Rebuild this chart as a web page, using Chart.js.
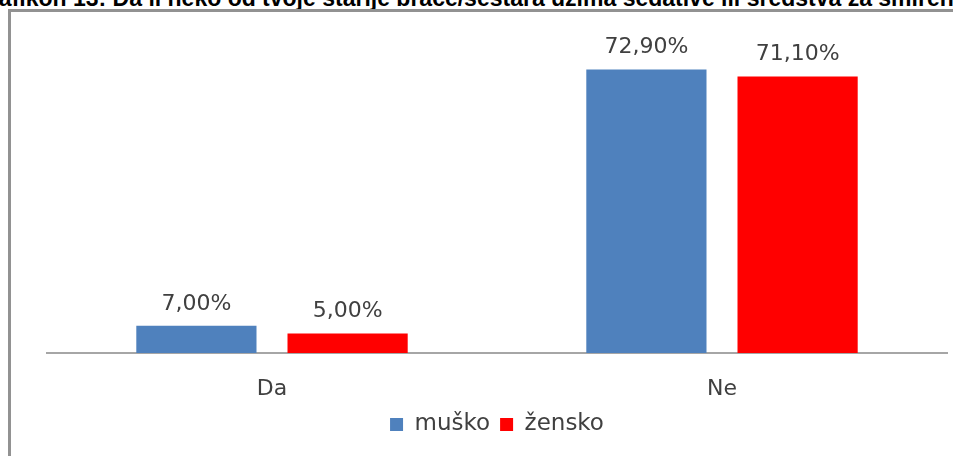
<!DOCTYPE html>
<html lang="hr">
<head>
  <meta charset="UTF-8">
  <title>Grafikon 13</title>
  <script src="https://cdn.jsdelivr.net/npm/chart.js"></script>
  <style>
    html, body {
      margin: 0;
      padding: 0;
      width: 953px;
      height: 456px;
      overflow: hidden;
      background: #fff;
      font-family: 'DejaVu Sans', sans-serif;
    }

    .title {
      position: absolute;
      left: -28px;
      top: -15px;
      white-space: nowrap;
      font-family: 'Liberation Sans', Arial, sans-serif;
      font-weight: bold;
      font-size: 23px;
      color: #000;
    }

    .frame {
      position: absolute;
      left: 8px;
      top: 9px;
      width: 1000px;
      height: 500px;
      border-left: 3px solid #929292;
      border-top: 3px solid #929292;
    }

    #chart {
      position: absolute;
      left: 0;
      top: 0;
    }
  </style>
</head>
<body>
  <div class="title">Grafikon 13: Da li neko od tvoje starije braće/sestara uzima sedative ili sredstva za smirenje</div>
  <div class="frame"></div>
  <canvas id="chart" width="953" height="456"></canvas>

  <script>
    const categories = ['Da', 'Ne'];
    const musko = [7.0, 72.9];
    const zensko = [5.0, 71.1];

    const textColor = '#404040';
    const fontSize = 22;

    // labels above each bar, Excel style "72,90%"
    const valueLabels = {
      id: 'valueLabels',
      afterDatasetsDraw(chart) {
        const ctx = chart.ctx;
        ctx.save();
        ctx.font = fontSize + 'px "DejaVu Sans"';
        ctx.fillStyle = textColor;
        ctx.textAlign = 'center';
        ctx.textBaseline = 'middle';
        chart.data.datasets.forEach((ds, i) => {
          chart.getDatasetMeta(i).data.forEach((bar, j) => {
            const txt = ds.data[j].toFixed(2).replace('.', ',') + '%';
            ctx.fillText(txt, bar.x, bar.y - 22);
          });
        });
        ctx.restore();
      }
    };

    new Chart(document.getElementById('chart'), {
      type: 'bar',
      data: {
        labels: categories,
        datasets: [
          {
            label: 'muško',
            data: musko,
            backgroundColor: '#4F81BD',
            categoryPercentage: 0.672,
            barPercentage: 0.795
          },
          {
            label: 'žensko',
            data: zensko,
            backgroundColor: '#FF0000',
            categoryPercentage: 0.672,
            barPercentage: 0.795
          }
        ]
      },
      options: {
        responsive: false,
        animation: false,
        layout: {
          padding: { left: 47, right: 6, top: 42, bottom: 10 }
        },
        plugins: {
          legend: {
            position: 'bottom',
            labels: {
              color: textColor,
              font: { family: 'DejaVu Sans', size: 23 },
              boxWidth: 13,
              boxHeight: 13,
              padding: 10
            }
          },
          tooltip: { enabled: false }
        },
        scales: {
          x: {
            grid: { display: false },
            border: { color: '#a6a6a6', width: 2 },
            ticks: {
              color: textColor,
              font: { family: 'DejaVu Sans', size: fontSize },
              padding: 15
            },
            afterFit(scale) {
              scale.height = 50;
            }
          },
          y: {
            display: false,
            min: 0,
            max: 80
          }
        }
      },
      plugins: [valueLabels]
    });
  </script>
</body>
</html>
